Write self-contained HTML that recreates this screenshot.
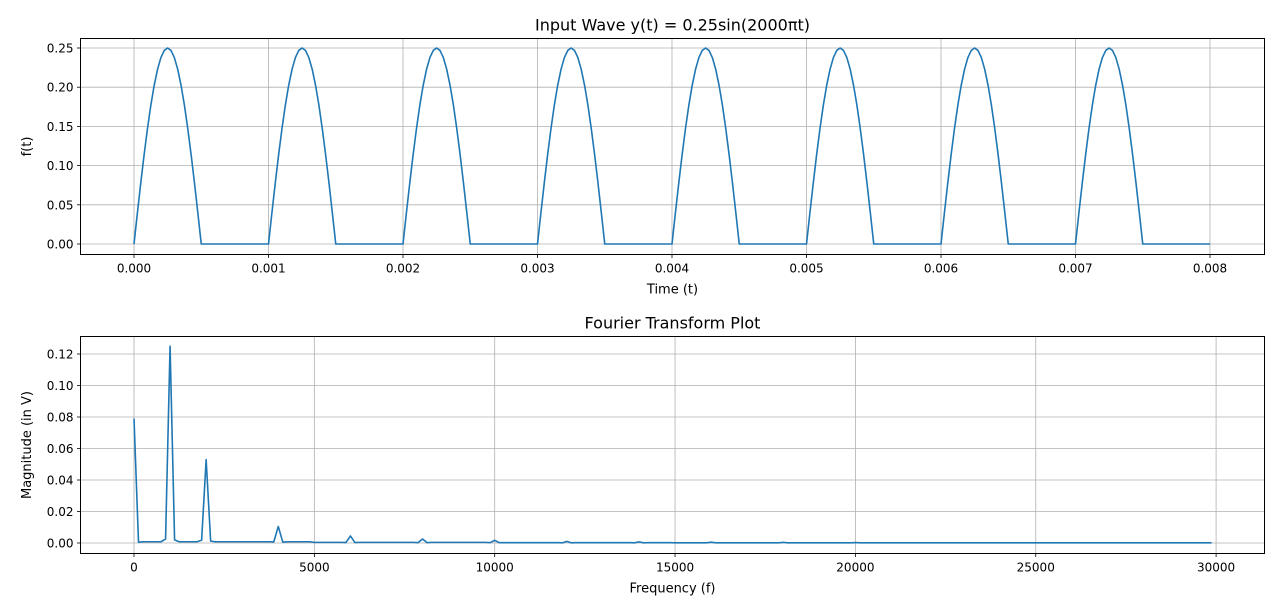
<!DOCTYPE html>
<html><head><meta charset="utf-8"><style>
body{margin:0;background:#fff;}
svg{display:block;font-family:"DejaVu Sans","Liberation Sans",sans-serif;}
</style></head><body>
<svg id="fig" width="1280" height="612" viewBox="0 0 1280 612" xmlns="http://www.w3.org/2000/svg">
<rect width="1280" height="612" fill="#fff"/>
<g id="top"></g>
<g id="bot"></g>
</svg>
<script>
// Top chart data: one period sampled every 0.000025 s (positive half, then zeros)
const halfCycle=[0,0.0391,0.0773,0.1135,0.1469,0.1768,0.2023,0.2228,0.2378,0.2469,0.25,0.2469,0.2378,0.2228,0.2023,0.1768,0.1469,0.1135,0.0773,0.0391,0];
const cycleCount=8;
const timeStep=0.000025;
const topXTicks=["0.000","0.001","0.002","0.003","0.004","0.005","0.006","0.007","0.008"];
const topYTicks=["0.00","0.05","0.10","0.15","0.20","0.25"];
// Bottom chart data: frequency bins every 125 Hz
const binWidth=125;
const binCount=240;
const peakBins=[0,1,7,8,9,15,16,17,31,32,33,47,48,49,63,64,65,79,80,81,95,96,97,111,112,113,127,128,129,143,144,145,159,160,161];
const peakValues=[0.079,0.0005,0.0025,0.125,0.002,0.0018,0.053,0.0012,0.0007,0.0105,0.0005,0.0003,0.0045,0.0003,0.0002,0.0025,0.0002,0.0002,0.0017,0.0002,0.0001,0.001,0.0001,0.0001,0.0007,0.0001,0.0001,0.0005,0.0001,0.0001,0.0004,0.0001,0.0001,0.0003,0.0001];
const baseLevel=[0.0008,0.0004,0.0002,0.0001];
const botXTicks=[0,5000,10000,15000,20000,25000,30000];
const botYTicks=["0.00","0.02","0.04","0.06","0.08","0.10","0.12"];

const NS="http://www.w3.org/2000/svg";
function mk(parent,tag,attrs,text){const e=document.createElementNS(NS,tag);for(const k in attrs)e.setAttribute(k,attrs[k]);if(text!==undefined)e.textContent=text;parent.appendChild(e);return e;}

function axes(g,box,xt,xs,yt,ys,title,xlabel,ylabel,pre){
  const [L,T,R,B]=box;
  xt.forEach((v,i)=>{const x=xs(+v);
    const gl=mk(g,'line',{x1:x,x2:x,y1:T,y2:B,stroke:'#b0b0b0','stroke-width':0.8});
    
    mk(g,'line',{x1:x,x2:x,y1:B,y2:B+3.5,stroke:'#000','stroke-width':0.8});
    const t=mk(g,'text',{x:x,y:B+18,'font-size':12,'text-anchor':'middle'},String(v));
    });
  yt.forEach(v=>{const y=ys(+v);
    const gl=mk(g,'line',{x1:L,x2:R,y1:y,y2:y,stroke:'#b0b0b0','stroke-width':0.8});
    
    mk(g,'line',{x1:L-3.5,x2:L,y1:y,y2:y,stroke:'#000','stroke-width':0.8});
    const t=mk(g,'text',{x:L-7,y:y+4.5,'font-size':12,'text-anchor':'end'},v);
    });
  const tt=mk(g,'text',{x:(L+R)/2,y:T-8,'font-size':16,'text-anchor':'middle'},title);
  
  const xl=mk(g,'text',{x:(L+R)/2,y:B+39,'font-size':13,'text-anchor':'middle'},xlabel);
  
  const cy=(T+B)/2;
  const yl=mk(g,'text',{x:31,y:cy,'font-size':13,'text-anchor':'middle',transform:`rotate(-90 31 ${cy})`},ylabel);
  
}
function frame(g,box,pre){const [L,T,R,B]=box;
  const f=mk(g,'rect',{x:L,y:T,width:R-L,height:B-T,fill:'none',stroke:'#000','stroke-width':1});
  }

// Top chart
(function(){
  const g=document.getElementById('top');const box=[80.5,38.5,1264.5,254.5];
  const xs=v=>134+v/0.001*134.5; const ys=v=>244-v/0.25*196;
  axes(g,box,topXTicks,xs,topYTicks,ys,'Input Wave y(t) = 0.25sin(2000πt)','Time (t)','f(t)','top-');
  const cycle=halfCycle.concat(new Array(halfCycle.length-2).fill(0));
  let pts=[];
  for(let c=0;c<cycleCount;c++)cycle.forEach((v,i)=>pts.push([(c*cycle.length+i)*timeStep,v]));
  pts.push([cycleCount*cycle.length*timeStep,0]);
  const p=mk(g,'polyline',{points:pts.map(q=>xs(q[0]).toFixed(2)+','+ys(q[1]).toFixed(2)).join(' '),fill:'none',stroke:'#1f77b4','stroke-width':1.6,'stroke-linejoin':'round'});
  
  frame(g,box,'top-');
})();
// Bottom chart
(function(){
  const g=document.getElementById('bot');const box=[80.5,336.5,1264.5,553.5];
  const xs=v=>134+v/1000*36.07; const ys=v=>543-v*1575;
  axes(g,box,botXTicks,xs,botYTicks,ys,'Fourier Transform Plot','Frequency (f)','Magnitude (in V)','fft-');
  const vals=[];
  for(let k=0;k<binCount;k++)vals.push(baseLevel[Math.min(baseLevel.length-1,Math.floor(k/40))]);
  peakBins.forEach((b,i)=>vals[b]=peakValues[i]);
  const p=mk(g,'polyline',{points:vals.map((v,k)=>xs(k*binWidth).toFixed(2)+','+ys(v).toFixed(2)).join(' '),fill:'none',stroke:'#1f77b4','stroke-width':1.6,'stroke-linejoin':'round'});
  
  frame(g,box,'fft-');
})();
</script>
</body></html>
